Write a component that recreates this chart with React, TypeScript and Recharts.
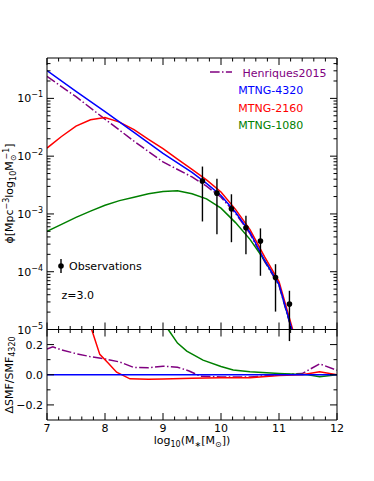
import React from "react";
import { ComposedChart, Line, Scatter, ErrorBar, XAxis, YAxis } from "recharts";

const FONT = "DejaVu Sans, Verdana, sans-serif";

// stellar mass function, z = 3.0 (x = log10 M*, y = phi)
const MASS_4320 = [7, 7.5, 8, 8.5, 9, 9.5, 9.75, 10, 10.25, 10.5, 10.75, 11, 11.25];
const PHI_4320 = [0.302, 0.132, 0.0589, 0.0257, 0.0112, 5.25e-3, 3.39e-3, 2.09e-3, 1.07e-3, 4.79e-4, 1.58e-4, 6.03e-5, 7.9e-6];

const MASS_2160 = [7, 7.25, 7.5, 7.75, 8, 8.25, 8.5, 8.75, 9, 9.25, 9.5, 9.75, 10, 10.25, 10.5, 10.75, 11, 11.25];
const PHI_2160 = [0.0138, 0.0219, 0.0331, 0.0427, 0.0468, 0.0389, 0.0288, 0.0195, 0.0135, 8.91e-3, 5.89e-3, 3.89e-3, 2.4e-3, 1.2e-3, 5.37e-4, 1.82e-4, 6.76e-5, 8.9e-6];

const MASS_1080 = [7, 7.25, 7.5, 7.75, 8, 8.25, 8.5, 8.75, 9, 9.25, 9.5, 9.75, 10, 10.25, 10.5, 10.75, 11, 11.25];
const PHI_1080 = [5.01e-4, 6.61e-4, 8.71e-4, 1.12e-3, 1.41e-3, 1.7e-3, 1.95e-3, 2.24e-3, 2.45e-3, 2.51e-3, 2.24e-3, 1.82e-3, 1.26e-3, 7.08e-4, 3.63e-4, 1.58e-4, 6.03e-5, 7.9e-6];

const MASS_H15 = [7, 7.5, 8, 8.5, 9, 9.5, 9.75, 10, 10.25, 10.5, 10.75, 11, 11.25];
const PHI_H15 = [0.24, 0.107, 0.0437, 0.0182, 7.94e-3, 4.37e-3, 3.02e-3, 1.95e-3, 1.02e-3, 4.57e-4, 1.51e-4, 5.75e-5, 7.6e-6];

const OBS_MASS = [9.68, 9.93, 10.18, 10.43, 10.68, 10.94, 11.18];
const OBS_PHI = [3.72e-3, 2.29e-3, 1.23e-3, 5.75e-4, 3.39e-4, 7.94e-5, 2.75e-5];
const OBS_UPPER = [6.61e-3, 4.07e-3, 2.19e-3, 9.33e-4, 5.62e-4, 1.35e-4, 4.68e-5];
const OBS_LOWER = [7.41e-4, 4.47e-4, 3.24e-4, 2.0e-4, 8.51e-5, 2.04e-5, 6.3e-6];

// residuals relative to MTNG-4320
const RES_MASS_H15 = [7, 7.1, 7.25, 7.5, 7.75, 8, 8.25, 8.5, 8.75, 9, 9.25, 9.45, 9.65, 10, 10.5, 11, 11.4, 11.7, 12];
const RES_H15 = [0.17, 0.185, 0.165, 0.14, 0.12, 0.105, 0.085, 0.048, 0.047, 0.057, 0.05, 0.025, -0.01, -0.015, -0.015, 0.0, 0.008, 0.072, 0.03];

const RES_MASS_2160 = [7.6, 7.77, 7.91, 8.05, 8.2, 8.43, 8.75, 9, 9.5, 10, 10.5, 11, 11.4, 11.7, 12];
const RES_2160 = [0.5, 0.3, 0.135, 0.08, 0.017, -0.027, -0.03, -0.028, -0.024, -0.02, -0.02, -0.005, 0.0, 0.02, 0.0];

const RES_MASS_1080 = [8.9, 9.09, 9.25, 9.41, 9.69, 10, 10.21, 10.5, 11, 11.5, 11.7, 12];
const RES_1080 = [0.45, 0.3, 0.21, 0.157, 0.097, 0.055, 0.031, 0.02, 0.009, 0.0, -0.013, 0.0];

const RES_MASS_4320 = [7, 12];
const RES_4320 = [0, 0];

const X_TICKS = [7, 7.2, 7.4, 7.6, 7.8, 8, 8.2, 8.4, 8.6, 8.8, 9, 9.2, 9.4, 9.6, 9.8, 10, 10.2, 10.4, 10.6, 10.8, 11, 11.2, 11.4, 11.6, 11.8, 12];
const X_LABELS = [7, 8, 9, 10, 11, 12];
const DECADES = [1e-5, 1e-4, 1e-3, 1e-2, 1e-1];
const MANTISSAS = [1, 2, 3, 4, 5, 6, 7, 8, 9];
const RES_TICKS = [-0.2, -0.1, 0, 0.1, 0.2];
const RES_LABELS = [-0.2, 0, 0.2];

const LOG_TICKS = DECADES.flatMap((d) => MANTISSAS.map((m) => m * d)).filter((v) => v < 0.5);

const pts = (xs: number[], ys: number[]) => xs.map((x, i) => ({ x, y: ys[i] }));

const obsData = OBS_MASS.map((x, i) => ({
  x,
  y: OBS_PHI[i],
  err: [OBS_PHI[i] - OBS_LOWER[i], OBS_UPPER[i] - OBS_PHI[i]],
}));

const COLORS = { h15: "#800080", m4320: "#0000ff", m2160: "#ff0000", m1080: "#008000" };
const DASHDOT = "9.6 2.4 1.5 2.4";
const MAJOR = 7;
const MINOR = 3.5;

const near = (a: number, b: number) => Math.abs(a - b) < 1e-6;
const isDecade = (v: number) => near(Math.log10(v), Math.round(Math.log10(v)));

type TP = { x: number; y: number; payload: { value: number } };

function LogLeftTick({ x, y, payload }: TP) {
  const v = payload.value;
  const major = isDecade(v);
  return (
    <g>
      <line x1={x} x2={x + (major ? MAJOR : MINOR)} y1={y} y2={y} stroke="#000" />
      {major && (
        <text x={x - 4} y={y + 4} textAnchor="end" fontSize={11} fontFamily={FONT} fill="#000">
          10
          <tspan dy={-5} fontSize={8}>{"\u2212" + Math.abs(Math.round(Math.log10(v)))}</tspan>
        </text>
      )}
    </g>
  );
}

function LogRightTick({ x, y, payload }: TP) {
  const major = isDecade(payload.value);
  return <line x1={x} x2={x - (major ? MAJOR : MINOR)} y1={y} y2={y} stroke="#000" />;
}

function XUpTick({ x, y, payload }: TP) {
  const major = X_LABELS.some((l) => near(l, payload.value));
  return <line x1={x} x2={x} y1={y} y2={y - (major ? MAJOR : MINOR)} stroke="#000" />;
}

function XDownTick({ x, y, payload }: TP) {
  const major = X_LABELS.some((l) => near(l, payload.value));
  return <line x1={x} x2={x} y1={y} y2={y + (major ? MAJOR : MINOR)} stroke="#000" />;
}

function XLabelTick({ x, y, payload }: TP) {
  const major = X_LABELS.some((l) => near(l, payload.value));
  return (
    <g>
      <line x1={x} x2={x} y1={y} y2={y - (major ? MAJOR : MINOR)} stroke="#000" />
      {major && (
        <text x={x} y={y + 12} textAnchor="middle" fontSize={11} fontFamily={FONT} fill="#000">
          {Math.round(payload.value)}
        </text>
      )}
    </g>
  );
}

function ResLeftTick({ x, y, payload }: TP) {
  const v = payload.value;
  const major = RES_LABELS.some((l) => near(l, v));
  const label = (v < -1e-6 ? "\u2212" : "") + Math.abs(v).toFixed(1);
  return (
    <g>
      <line x1={x} x2={x + (major ? MAJOR : MINOR)} y1={y} y2={y} stroke="#000" />
      {major && (
        <text x={x - 4} y={y + 4} textAnchor="end" fontSize={11} fontFamily={FONT} fill="#000">
          {label}
        </text>
      )}
    </g>
  );
}

function ResRightTick({ x, y, payload }: TP) {
  const major = RES_LABELS.some((l) => near(l, payload.value));
  return <line x1={x} x2={x - (major ? MAJOR : MINOR)} y1={y} y2={y} stroke="#000" />;
}

const W = 374;
const H = 481;
const PLOT_L = 47;
const PLOT_R = 337;

function axisCommon() {
  return { allowDataOverflow: true, interval: 0 as const, tickSize: 0, tickMargin: 0, tickLine: false, axisLine: { stroke: "#000" } };
}

// axes are 1px thick, so margins leave room for them
function margins(top: number, bottom: number) {
  return { top: top - 1, bottom: H - bottom - 1, left: PLOT_L - 1, right: W - PLOT_R - 1 };
}

function SmfPanel() {
  return (
    <ComposedChart width={W} height={H} margin={margins(58, 329.5)}>
      <XAxis xAxisId="b" dataKey="x" type="number" domain={[7, 12]} ticks={X_TICKS} height={1} tick={XUpTick} {...axisCommon()} />
      <XAxis xAxisId="t" orientation="top" dataKey="x" type="number" domain={[7, 12]} ticks={X_TICKS} height={1} tick={XDownTick} {...axisCommon()} />
      <YAxis yAxisId="l" dataKey="y" type="number" scale="log" domain={[1e-5, 0.5]} ticks={LOG_TICKS} width={1} tick={LogLeftTick} {...axisCommon()} />
      <YAxis yAxisId="r" orientation="right" dataKey="y" type="number" scale="log" domain={[1e-5, 0.5]} ticks={LOG_TICKS} width={1} tick={LogRightTick} {...axisCommon()} />
      <Line xAxisId="b" yAxisId="l" data={pts(MASS_H15, PHI_H15)} dataKey="y" stroke={COLORS.h15} strokeWidth={1.5} strokeDasharray={DASHDOT} dot={false} isAnimationActive={false} />
      <Line xAxisId="b" yAxisId="l" data={pts(MASS_1080, PHI_1080)} dataKey="y" stroke={COLORS.m1080} strokeWidth={1.5} dot={false} isAnimationActive={false} />
      <Line xAxisId="b" yAxisId="l" data={pts(MASS_2160, PHI_2160)} dataKey="y" stroke={COLORS.m2160} strokeWidth={1.5} dot={false} isAnimationActive={false} />
      <Line xAxisId="b" yAxisId="l" data={pts(MASS_4320, PHI_4320)} dataKey="y" stroke={COLORS.m4320} strokeWidth={1.5} dot={false} isAnimationActive={false} />
      <Scatter
        xAxisId="b"
        yAxisId="l"
        data={obsData}
        dataKey="y"
        fill="#000"
        isAnimationActive={false}
        shape={(p: any) => <circle cx={p.cx} cy={p.cy} r={2.8} fill="#000" />}
      >
        <ErrorBar dataKey="err" direction="y" width={0} stroke="#000" strokeWidth={1.4} />
      </Scatter>
    </ComposedChart>
  );
}

function ResidualPanel() {
  return (
    <ComposedChart width={W} height={H} margin={margins(329.5, 420)}>
      <XAxis xAxisId="b" dataKey="x" type="number" domain={[7, 12]} ticks={X_TICKS} height={1} tick={XLabelTick} {...axisCommon()} />
      <XAxis xAxisId="t" orientation="top" dataKey="x" type="number" domain={[7, 12]} ticks={X_TICKS} height={1} tick={XDownTick} {...axisCommon()} />
      <YAxis yAxisId="l" dataKey="y" type="number" domain={[-0.3, 0.3]} ticks={RES_TICKS} width={1} tick={ResLeftTick} {...axisCommon()} />
      <YAxis yAxisId="r" orientation="right" dataKey="y" type="number" domain={[-0.3, 0.3]} ticks={RES_TICKS} width={1} tick={ResRightTick} {...axisCommon()} />
      <Line xAxisId="b" yAxisId="l" data={pts(RES_MASS_H15, RES_H15)} dataKey="y" stroke={COLORS.h15} strokeWidth={1.5} strokeDasharray={DASHDOT} dot={false} isAnimationActive={false} />
      <Line xAxisId="b" yAxisId="l" data={pts(RES_MASS_1080, RES_1080)} dataKey="y" stroke={COLORS.m1080} strokeWidth={1.5} dot={false} isAnimationActive={false} />
      <Line xAxisId="b" yAxisId="l" data={pts(RES_MASS_2160, RES_2160)} dataKey="y" stroke={COLORS.m2160} strokeWidth={1.5} dot={false} isAnimationActive={false} />
      <Line xAxisId="b" yAxisId="l" data={pts(RES_MASS_4320, RES_4320)} dataKey="y" stroke={COLORS.m4320} strokeWidth={1.5} dot={false} isAnimationActive={false} />
    </ComposedChart>
  );
}

function Annotations() {
  const t = { fontFamily: FONT, fontSize: 11 };
  return (
    <svg width={W} height={H} style={{ position: "absolute", left: 0, top: 0, pointerEvents: "none" }}>
      {/* legend */}
      <line x1={210} x2={232} y1={72} y2={72} stroke={COLORS.h15} strokeWidth={1.5} strokeDasharray={DASHDOT} />
      <text x={242.5} y={76.5} fill={COLORS.h15} {...t}>Henriques2015</text>
      <text x={238.3} y={94.3} fill={COLORS.m4320} {...t}>MTNG-4320</text>
      <text x={238.3} y={111.7} fill={COLORS.m2160} {...t}>MTNG-2160</text>
      <text x={238.3} y={129} fill={COLORS.m1080} {...t}>MTNG-1080</text>

      <line x1={61} x2={61} y1={259} y2={273} stroke="#000" strokeWidth={1.4} />
      <circle cx={61} cy={266} r={2.8} fill="#000" />
      <text x={69} y={269.5} fill="#000" {...t}>Observations</text>
      <text x={61.5} y={298.5} fill="#000" {...t}>z=3.0</text>

      {/* axis titles */}
      <text transform="rotate(-90 13 193.5)" x={13} y={193.5} textAnchor="middle" fill="#000" {...t}>
        {"\u03D5[Mpc"}
        <tspan dy={-4} fontSize={8}>{"\u22123"}</tspan>
        <tspan dy={4}>log</tspan>
        <tspan dy={2.5} fontSize={8}>10</tspan>
        <tspan dy={-2.5}>M</tspan>
        <tspan dy={2.5} fontSize={8}>{"\u2299"}</tspan>
        <tspan dy={-7} dx={-5} fontSize={8}>{"\u22121"}</tspan>
        <tspan dy={4.5}>]</tspan>
      </text>
      <text transform="rotate(-90 12.5 375)" x={12.5} y={375} textAnchor="middle" fill="#000" {...t}>
        {"\u0394SMF/SMF"}
        <tspan dy={2.5} fontSize={8}>4320</tspan>
      </text>
      <text x={192} y={444} textAnchor="middle" fill="#000" {...t}>
        log
        <tspan dy={2.5} fontSize={8}>10</tspan>
        <tspan dy={-2.5}>(M</tspan>
        <tspan dy={2.5} fontSize={8}>{"\u2217"}</tspan>
        <tspan dy={-2.5}>[M</tspan>
        <tspan dy={2.5} fontSize={8}>{"\u2299"}</tspan>
        <tspan dy={-2.5}>])</tspan>
      </text>
    </svg>
  );
}

export default function App() {
  return (
    <div style={{ position: "absolute", left: 0, top: 0, width: W, height: H, background: "#fff", fontFamily: FONT }}>
      <div style={{ position: "absolute", left: 0, top: 0 }}>
        <SmfPanel />
      </div>
      <div style={{ position: "absolute", left: 0, top: 0 }}>
        <ResidualPanel />
      </div>
      <Annotations />
    </div>
  );
}
